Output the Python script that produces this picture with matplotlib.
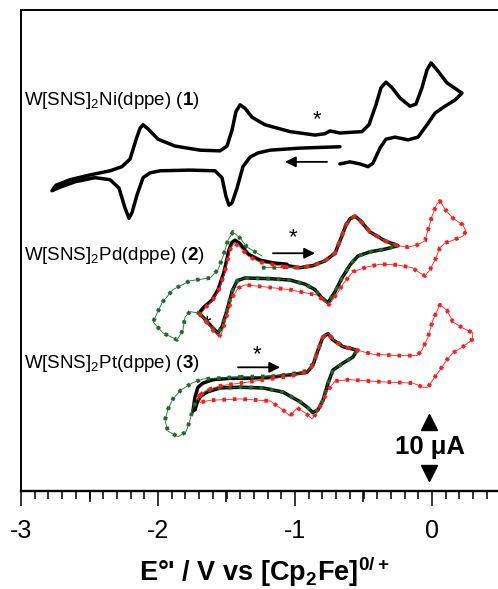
import numpy as np
import matplotlib
matplotlib.use("Agg")
import matplotlib.pyplot as plt

plt.rcParams['font.family'] = ['Liberation Sans', 'DejaVu Sans']
plt.rcParams['mathtext.fontset'] = 'custom'
plt.rcParams['mathtext.rm'] = 'Liberation Sans'
plt.rcParams['mathtext.it'] = 'Liberation Sans:italic'
plt.rcParams['mathtext.bf'] = 'Liberation Sans:bold'
plt.rcParams['axes.unicode_minus'] = False

# (E / V vs Fc, current / uA incl. vertical offset) for each trace
ni_black = [(-0.672, 50.1), (-0.964, 49.9), (-1.182, 49.6), (-1.270, 49.2), (-1.328, 48.6),
            (-1.380, 47.2), (-1.423, 44.1), (-1.460, 41.9), (-1.482, 41.6), (-1.504, 42.9),
            (-1.533, 45.6), (-1.584, 46.6), (-1.766, 46.7), (-1.985, 46.6), (-2.058, 46.3),
            (-2.109, 45.6), (-2.153, 43.1), (-2.190, 40.5), (-2.212, 39.7), (-2.241, 41.2),
            (-2.285, 44.1), (-2.350, 45.3), (-2.460, 45.6), (-2.606, 45.0), (-2.730, 44.1),
            (-2.774, 43.7), (-2.745, 44.5), (-2.642, 45.3), (-2.496, 46.0), (-2.350, 46.6),
            (-2.263, 47.2), (-2.204, 48.3), (-2.161, 51.1), (-2.131, 52.8), (-2.109, 53.3),
            (-2.073, 52.7), (-2.000, 51.2), (-1.876, 50.2), (-1.693, 49.6), (-1.547, 49.5),
            (-1.496, 50.2), (-1.460, 52.5), (-1.431, 55.2), (-1.401, 56.2), (-1.365, 55.7),
            (-1.314, 54.4), (-1.219, 53.3), (-1.036, 52.3), (-0.854, 51.8), (-0.781, 52.0),
            (-0.745, 52.4), (-0.672, 52.1), (-0.511, 52.3), (-0.460, 53.3), (-0.409, 56.2),
            (-0.372, 58.7), (-0.336, 59.5), (-0.292, 58.7), (-0.234, 57.2), (-0.161, 56.0),
            (-0.117, 56.3), (-0.073, 58.7), (-0.036, 61.3), (-0.007, 62.3), (0.036, 61.3),
            (0.109, 59.4), (0.219, 57.9), (0.168, 56.9), (0.095, 56.0), (0.022, 55.0),
            (-0.036, 53.3), (-0.102, 51.5), (-0.175, 51.1), (-0.270, 51.5), (-0.336, 51.2),
            (-0.380, 49.9), (-0.431, 47.7), (-0.467, 47.2), (-0.526, 47.6), (-0.599, 47.9),
            (-0.672, 47.6)]

pd_black = [(-1.058, 32.8), (-0.964, 32.5), (-0.869, 32.8), (-0.781, 33.5), (-0.708, 34.6),
            (-0.664, 36.8), (-0.628, 38.7), (-0.599, 39.6), (-0.562, 40.0), (-0.526, 39.4),
            (-0.453, 37.7), (-0.343, 36.4), (-0.248, 35.7), (-0.343, 35.2), (-0.453, 34.8),
            (-0.540, 34.2), (-0.599, 32.9), (-0.657, 31.0), (-0.708, 29.0), (-0.759, 27.4),
            (-0.803, 28.1), (-0.854, 29.3), (-0.927, 30.1), (-1.036, 30.7), (-1.182, 30.9),
            (-1.365, 31.0), (-1.423, 30.6), (-1.460, 29.0), (-1.496, 26.3), (-1.533, 23.9),
            (-1.562, 23.0), (-1.599, 23.7), (-1.657, 25.0), (-1.701, 25.9), (-1.664, 26.8),
            (-1.606, 27.8), (-1.562, 29.3), (-1.518, 31.9), (-1.482, 35.1), (-1.460, 36.2),
            (-1.438, 36.5), (-1.401, 36.0), (-1.343, 34.5), (-1.255, 33.6), (-1.161, 33.2),
            (-1.058, 33.0)]

pd_red = [(-1.073, 32.6), (-0.964, 32.5), (-0.869, 32.8), (-0.781, 33.5), (-0.708, 34.6),
          (-0.664, 36.8), (-0.628, 38.7), (-0.599, 39.6), (-0.562, 40.0), (-0.526, 39.4),
          (-0.453, 37.7), (-0.343, 36.4), (-0.248, 35.7), (-0.175, 35.5), (-0.109, 35.8),
          (-0.051, 36.4), (-0.029, 38.0), (0.000, 40.0), (0.036, 41.8), (0.058, 42.2),
          (0.095, 41.0), (0.153, 39.7), (0.226, 38.7), (0.248, 37.8), (0.226, 37.1),
          (0.153, 36.5), (0.095, 36.1), (0.058, 35.4), (0.022, 33.6), (-0.015, 32.2),
          (-0.051, 31.3), (-0.102, 31.9), (-0.146, 32.5), (-0.255, 32.9), (-0.380, 33.0),
          (-0.474, 32.6), (-0.577, 31.9), (-0.642, 30.3), (-0.701, 28.5), (-0.752, 27.1),
          (-0.796, 27.8), (-0.839, 28.5), (-0.964, 29.0), (-1.036, 29.3), (-1.219, 29.7),
          (-1.365, 30.0), (-1.416, 29.5), (-1.460, 28.1), (-1.496, 25.6), (-1.533, 23.1),
          (-1.555, 22.4), (-1.599, 23.4), (-1.657, 24.9), (-1.693, 25.6), (-1.657, 26.6),
          (-1.599, 27.8), (-1.555, 29.3), (-1.511, 31.9), (-1.474, 35.1), (-1.445, 36.1),
          (-1.401, 35.5), (-1.343, 34.2), (-1.255, 33.3), (-1.146, 32.9), (-1.073, 32.6)]

pd_green = [(-1.241, 32.5), (-1.146, 32.5), (-1.058, 32.6), (-0.964, 32.5), (-0.869, 32.8),
            (-0.781, 33.5), (-0.708, 34.6), (-0.664, 36.8), (-0.628, 38.7), (-0.599, 39.6),
            (-0.562, 40.0), (-0.526, 39.4), (-0.453, 37.7), (-0.343, 36.4), (-0.248, 35.7),
            (-0.343, 35.2), (-0.453, 34.8), (-0.540, 34.2), (-0.599, 32.9), (-0.657, 31.0),
            (-0.708, 29.0), (-0.759, 27.4), (-0.803, 28.1), (-0.854, 29.3), (-0.927, 30.1),
            (-1.036, 30.7), (-1.182, 30.9), (-1.365, 31.0), (-1.423, 30.6), (-1.460, 29.0),
            (-1.496, 26.3), (-1.533, 23.9), (-1.562, 23.0), (-1.599, 23.7), (-1.657, 25.0),
            (-1.701, 25.9), (-1.766, 26.1), (-1.803, 25.3), (-1.818, 23.4), (-1.861, 22.0),
            (-1.964, 23.0), (-2.036, 24.6), (-1.971, 27.4), (-1.891, 29.3), (-1.766, 30.6),
            (-1.620, 31.0), (-1.562, 32.2), (-1.526, 34.1), (-1.489, 36.5), (-1.453, 37.7),
            (-1.401, 36.8), (-1.350, 35.5), (-1.241, 34.2)]

pt_black = [(-1.745, 11.6), (-1.730, 13.7), (-1.708, 15.1), (-1.672, 15.7), (-1.599, 16.2),
            (-1.474, 16.4), (-1.328, 16.4), (-1.161, 16.6), (-1.036, 16.9), (-0.912, 17.3),
            (-0.869, 18.3), (-0.832, 20.5), (-0.796, 22.4), (-0.759, 22.9), (-0.723, 22.0),
            (-0.650, 21.0), (-0.547, 20.5), (-0.577, 19.5), (-0.650, 18.6), (-0.723, 17.6),
            (-0.759, 15.7), (-0.796, 13.2), (-0.832, 11.8), (-0.869, 11.4), (-0.905, 12.1),
            (-0.964, 13.0), (-1.088, 14.4), (-1.234, 15.0), (-1.401, 15.1), (-1.547, 15.0),
            (-1.642, 14.4), (-1.693, 13.7), (-1.715, 12.8), (-1.730, 11.8)]

pt_red = [(-1.693, 14.0), (-1.642, 14.7), (-1.547, 15.3), (-1.401, 15.7), (-1.219, 16.2),
          (-1.036, 16.7), (-0.912, 17.3), (-0.869, 18.3), (-0.832, 20.5), (-0.796, 22.4),
          (-0.759, 22.9), (-0.723, 22.0), (-0.650, 21.0), (-0.547, 20.5), (-0.431, 19.9),
          (-0.234, 19.7), (-0.109, 19.7), (-0.073, 20.5), (-0.029, 22.4), (0.007, 24.9),
          (0.058, 27.1), (0.109, 26.3), (0.153, 24.6), (0.226, 23.7), (0.299, 23.0),
          (0.292, 22.0), (0.226, 21.0), (0.153, 20.1), (0.109, 19.1), (0.058, 17.6),
          (0.007, 16.2), (-0.029, 15.1), (-0.066, 15.1), (-0.139, 15.7), (-0.380, 15.9),
          (-0.599, 16.2), (-0.708, 16.0), (-0.759, 14.7), (-0.803, 12.8), (-0.847, 11.2),
          (-0.876, 10.5), (-0.927, 11.4), (-0.985, 12.1), (-1.036, 10.9), (-1.088, 11.8),
          (-1.182, 13.1), (-1.401, 13.4), (-1.620, 13.2), (-1.693, 12.9), (-1.708, 13.5),
          (-1.693, 14.0)]

pt_green = [(-1.401, 16.6), (-1.161, 16.7), (-1.036, 17.0), (-0.912, 17.5), (-0.869, 18.5),
            (-0.832, 20.5), (-0.796, 22.4), (-0.759, 23.0), (-0.723, 22.1), (-0.650, 21.1),
            (-0.547, 20.5), (-0.577, 19.5), (-0.650, 18.6), (-0.723, 17.6), (-0.759, 15.7),
            (-0.796, 13.2), (-0.832, 11.8), (-0.869, 11.4), (-0.905, 12.1), (-0.964, 13.0),
            (-1.088, 14.4), (-1.234, 15.0), (-1.401, 15.1), (-1.547, 15.0), (-1.642, 14.6),
            (-1.708, 13.5), (-1.745, 12.1), (-1.766, 10.3), (-1.796, 8.6), (-1.854, 7.9),
            (-1.927, 8.7), (-1.949, 10.3), (-1.927, 11.9), (-1.891, 13.4), (-1.832, 14.7),
            (-1.752, 15.7), (-1.672, 16.3), (-1.569, 16.4), (-1.401, 16.6)]

labels = [r"W[SNS]$_2$Ni(dppe) ($\mathbf{1}$)",
          r"W[SNS]$_2$Pd(dppe) ($\mathbf{2}$)",
          r"W[SNS]$_2$Pt(dppe) ($\mathbf{3}$)"]
label_y = [56.9, 34.2, 18.5]

RED = '#ff1a1a'
GREEN = '#1d6b2a'

fig = plt.figure(figsize=(4.98, 5.89), dpi=100)
ax = fig.add_axes([21 / 498, 98 / 589, 479.5 / 498, 481 / 589])


def black(trace):
    e, i = np.array(trace).T
    ax.plot(e, i, color='black', lw=2.5, solid_joinstyle='round', solid_capstyle='round', zorder=3)


def dotted(trace, color, z):
    e, i = np.array(trace).T
    ax.plot(e, i, color=color, lw=0.6, zorder=z)
    ax.plot(e, i, color=color, lw=2.8, linestyle=(0, (0.9, 1.8)), zorder=z)


black(ni_black)
black(pd_black)
black(pt_black)
dotted(pd_green, GREEN, 4)
dotted(pt_green, GREEN, 4)
dotted(pd_red, RED, 5)
dotted(pt_red, RED, 5)

for txt, y in zip(labels, label_y):
    ax.text(-2.978, y, txt, fontsize=13.5, ha='left', va='center')

# scan direction arrows and asterisks
arrow_kw = dict(arrowstyle='-|>', color='black', lw=1.3, mutation_scale=16,
                shrinkA=0, shrinkB=0)
ax.annotate('', xy=(-1.073, 47.9), xytext=(-0.766, 47.9), arrowprops=arrow_kw)
ax.annotate('', xy=(-0.854, 34.6), xytext=(-1.161, 34.6), arrowprops=arrow_kw)
ax.annotate('', xy=(-1.109, 18.0), xytext=(-1.416, 18.0), arrowprops=arrow_kw)
for e, i in [(-0.839, 54.0), (-1.015, 36.8), (-1.277, 19.8), (-1.642, 24.2)]:
    ax.text(e, i, '*', fontsize=16, ha='center', va='center')

# 10 uA scale bar
bar_x, bar_low, bar_uA = -0.022, 1.3, 10
ax.plot(bar_x, bar_low + bar_uA - 1.3, marker='^', ms=11, color='black', clip_on=False)
ax.plot(bar_x, bar_low + 1.3, marker='v', ms=11, color='black', clip_on=False)
ax.text(-0.015, 6.4, '10 μA', fontsize=18.5, fontweight='bold', ha='center', va='center')

ax.set_xlim(-3, 0.5)
ax.set_ylim(0, 70)
ax.set_yticks([])
ax.set_xticks([-3, -2, -1, 0])
ax.set_xticks(np.arange(-3, 0.51, 0.1), minor=True)
ax.tick_params(axis='x', which='major', direction='out', length=11, width=1.1,
               labelsize=18, pad=9)
ax.tick_params(axis='x', which='minor', direction='out', length=5.5, width=1.1)
half = ax.secondary_xaxis('bottom')
half.set_xticks([-2.5, -1.5, -0.5])
half.tick_params(direction='out', length=8, width=1.1, labelbottom=False)
half.spines['bottom'].set_visible(False)
for s in ax.spines.values():
    s.set_linewidth(1.4)
ax.spines['bottom'].set_linewidth(1.7)

fig.text(264 / 498, 8 / 589, r"E°' / V vs [Cp$_\mathbf{2}$Fe]$^\mathbf{0/+}$",
         fontsize=19.5, fontweight='bold', ha='center', va='baseline')

fig.savefig('out.png', dpi=100)
